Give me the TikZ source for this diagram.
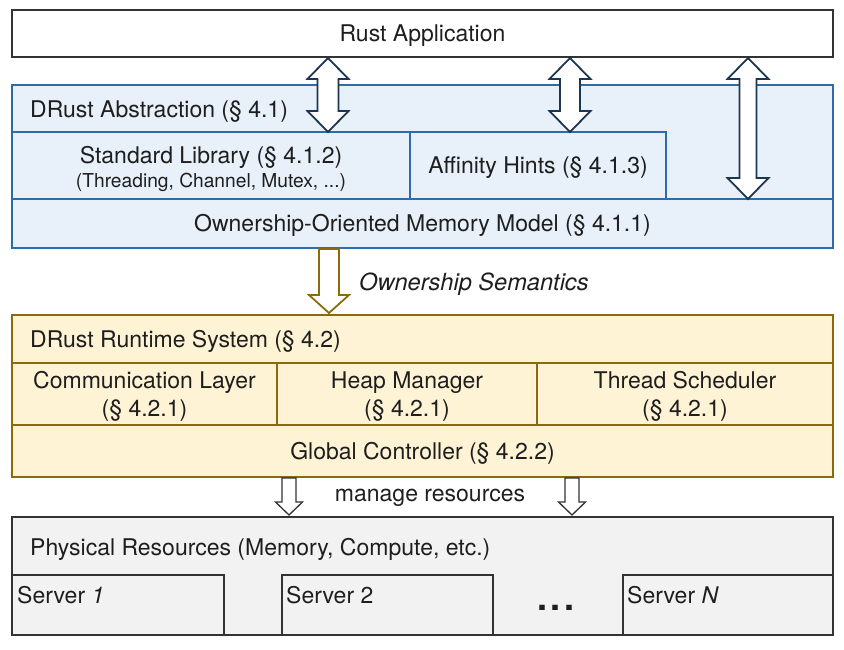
\documentclass[tikz,border=0pt]{standalone}
\usepackage{fontspec}
\setmainfont{TeX Gyre Heros}
\usetikzlibrary{calc}
\definecolor{bluefill}{HTML}{E8F0F9}
\definecolor{blueline}{HTML}{2E6CA8}
\definecolor{goldfill}{HTML}{FFF3D5}
\definecolor{goldline}{HTML}{8C6A0C}
\definecolor{grayfill}{HTML}{F2F2F2}
\definecolor{grayline}{HTML}{333333}
\definecolor{navy}{HTML}{1C3550}
\definecolor{txt}{HTML}{1E1E1E}
\newcommand\mainsize{\fontsize{23}{28}\selectfont}
\newcommand\smallsz{\fontsize{19.2}{22}\selectfont}
% vertical double block arrow: X, Ytop, Ybot, shaft half, head half, head length
\newcommand\vdarrow[7]{%
  \draw[#7] (#1,#2) -- ({#1+#5},{#2+#6}) -- ({#1+#4},{#2+#6}) -- ({#1+#4},{#3-#6})
    -- ({#1+#5},{#3-#6}) -- (#1,#3) -- ({#1-#5},{#3-#6}) -- ({#1-#4},{#3-#6})
    -- ({#1-#4},{#2+#6}) -- ({#1-#5},{#2+#6}) -- cycle;}
% vertical single block arrow pointing down
\newcommand\vsarrow[7]{%
  \draw[#7] ({#1-#4},#2) -- ({#1+#4},#2) -- ({#1+#4},{#3-#6}) -- ({#1+#5},{#3-#6})
    -- (#1,#3) -- ({#1-#5},{#3-#6}) -- ({#1-#4},{#3-#6}) -- cycle;}
\begin{document}
\begin{tikzpicture}[x=1pt,y=-1pt,
  every node/.style={font=\mainsize, text=txt, inner sep=0pt},
  one/.style={text height=21.4pt, text depth=5pt},
  box/.style={draw, rectangle, line width=1.8pt},
  appbox/.style={box, fill=white, draw=grayline, line width=1.5pt},
  bluebox/.style={box, fill=bluefill, draw=blueline},
  goldbox/.style={box, fill=goldfill, draw=goldline},
  graybox/.style={box, fill=grayfill, draw=grayline, line width=1.6pt},
  navyarrow/.style={fill=white, draw=navy, line width=1.8pt, line join=miter},
  goldarrow/.style={fill=white, draw=goldline, line width=1.8pt, line join=miter},
  grayarrow/.style={fill=white, draw=grayline, line width=1.3pt, line join=miter},
  label/.style={anchor=west, one}]
\useasboundingbox (0,0) rectangle (844,650);

% Rust application
\node[appbox, one, minimum width=821, minimum height=47] (app) at (422.5,33.5) {Rust Application};

% DRust abstraction
\node[bluebox, minimum width=821, minimum height=163] (abs) at (422.5,166.5) {};
\node[label] (abstitle) at (30,109) {DRust Abstraction (§ 4.1)};
\node[bluebox, minimum width=398, minimum height=67] (std) at (211,165.5) {};
\node[one] (stdt) at (211,155) {Standard Library (§ 4.1.2)};
\node[font=\smallsz, text height=17.8pt, text depth=4.3pt] (stds) at (211,181) {(Threading, Channel, Mutex, ...)};
\node[bluebox, one, minimum width=256, minimum height=67] (aff) at (538,165.5) {Affinity Hints (§ 4.1.3)};
\node[bluebox, one, minimum width=821, minimum height=49] (oom) at (422.5,223.5) {Ownership-Oriented Memory Model (§ 4.1.1)};

% double arrows
\vdarrow{328}{58}{132}{10.5}{20.5}{21}{navyarrow}
\vdarrow{570}{58}{132}{10}{20.5}{21}{navyarrow}
\vdarrow{748}{58}{199}{8.5}{20.5}{21}{navyarrow}

% ownership semantics arrow
\vsarrow{329}{249}{313}{10}{20}{18}{goldarrow}
\node[label, font=\fontsize{23.6}{28}\selectfont\itshape] (os) at (359,282) {Ownership Semantics};

% Runtime system
\node[goldbox, minimum width=821, minimum height=162] (rt) at (422.5,396) {};
\node[label] (rttitle) at (30,339) {DRust Runtime System (§ 4.2)};
\node[goldbox, minimum width=265, minimum height=62] (comm) at (144.5,394) {};
\node[one] (commt) at (144.5,380) {Communication Layer};
\node[one] (comms) at (144.5,408) {(§ 4.2.1)};
\node[goldbox, minimum width=260, minimum height=62] (heap) at (407,394) {};
\node[one] (heapt) at (407,380) {Heap Manager};
\node[one] (heaps) at (407,408) {(§ 4.2.1)};
\node[goldbox, minimum width=296, minimum height=62] (sched) at (685,394) {};
\node[one] (schedt) at (685,380) {Thread Scheduler};
\node[one] (scheds) at (685,408) {(§ 4.2.1)};
\node[goldbox, one, minimum width=821, minimum height=52] (gc) at (422.5,451) {Global Controller (§ 4.2.2)};

% manage resources arrows
\vsarrow{289}{478}{515}{7}{13.5}{13}{grayarrow}
\vsarrow{572}{478}{515}{7}{13.5}{13}{grayarrow}
\node[one] (mr) at (430,493) {manage resources};

% physical resources
\node[graybox, minimum width=821, minimum height=118] (phys) at (422.5,576) {};
\node[label] (phystitle) at (30,547) {Physical Resources (Memory, Compute, etc.)};
\node[graybox, minimum width=212, minimum height=60] (s1) at (118,605) {};
\node[label] (s1t) at (17,595) {Server \textit{1}};
\node[graybox, minimum width=211, minimum height=60] (s2) at (387.5,605) {};
\node[label] (s2t) at (286,595) {Server 2};
\node[graybox, minimum width=210, minimum height=60] (sN) at (728,605) {};
\node[label] (sNt) at (627,595) {Server \textit{N}};
\node[font=\fontsize{36}{40}\selectfont\bfseries, anchor=base] (dots) at (556,610) {.\hspace{3.5pt}.\hspace{3.5pt}.};
\end{tikzpicture}
\end{document}
